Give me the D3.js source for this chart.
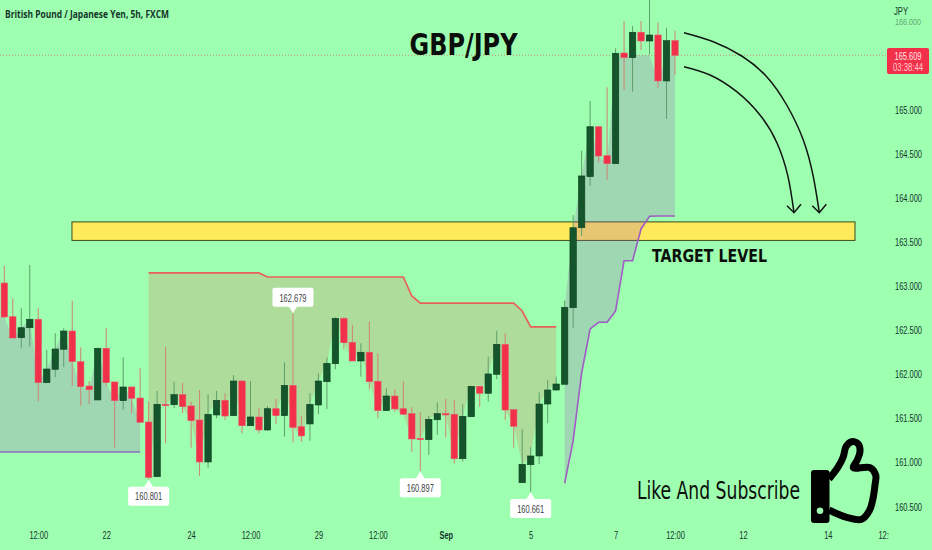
<!DOCTYPE html>
<html><head><meta charset="utf-8">
<style>
html,body{margin:0;padding:0;background:#9fffb0;overflow:hidden}
svg{display:block}
</style>
<script src="https://cdnjs.cloudflare.com/ajax/libs/d3/7.8.5/d3.min.js"></script>
</head><body>
<svg id="c" width="932" height="550"></svg>
<script>
const opens=[163.027,162.645,162.407,162.520,162.616,161.897,162.049,162.276,162.483,162.135,
161.859,161.701,162.287,161.905,161.693,161.848,161.723,161.451,160.831,161.652,
161.647,161.761,161.633,161.474,160.998,161.531,161.697,161.523,161.916,161.409,
161.508,161.361,161.602,161.523,161.867,161.398,161.429,161.644,161.908,162.112,
162.627,162.355,162.143,162.242,161.913,161.580,161.746,161.602,161.546,161.266,
161.251,161.477,161.546,161.539,161.035,161.511,161.856,161.777,161.992,162.332,
161.591,160.763,160.967,161.066,161.655,161.814,161.879,162.747,163.654,164.233,
164.799,164.471,164.380,165.635,165.582,165.870,165.771,165.839,165.318,165.775];
const closes=[162.642,162.404,162.520,162.616,161.897,162.052,162.279,162.483,162.135,161.852,
161.818,162.287,161.897,161.693,161.848,161.720,161.448,160.824,161.652,161.636,
161.761,161.625,161.466,160.998,161.539,161.697,161.519,161.916,161.409,161.508,
161.361,161.602,161.523,161.867,161.391,161.293,161.652,161.916,162.117,162.627,
162.350,162.143,162.242,161.908,161.580,161.746,161.599,161.539,161.259,161.251,
161.482,161.546,161.531,161.035,161.516,161.856,161.777,161.996,162.332,161.587,
161.403,160.972,161.066,161.655,161.814,161.882,162.752,163.654,164.241,164.799,
164.467,164.380,165.632,165.582,165.870,165.771,165.839,165.318,165.775,165.609];
const highs=[163.220,162.854,162.740,163.231,162.740,162.268,162.457,162.514,162.827,162.298,
161.916,162.294,162.520,161.908,162.185,161.852,162.060,161.681,161.803,162.305,
161.908,161.897,161.681,161.814,161.765,161.803,161.777,161.984,161.928,161.916,
161.607,161.633,161.712,162.128,162.679,161.519,161.777,162.003,162.185,162.638,
162.638,162.551,162.344,162.589,162.230,161.833,161.822,161.913,161.618,161.561,
161.519,161.675,161.712,161.701,161.652,161.860,161.860,162.192,162.486,162.457,
161.595,161.369,161.164,161.788,161.928,161.965,162.827,163.798,164.527,165.091,
164.807,165.246,165.688,165.998,165.941,165.998,166.250,165.983,165.922,165.888];
const lows=[162.630,162.400,162.287,162.305,161.681,161.897,161.958,162.072,161.859,161.636,
161.655,161.701,161.859,161.160,161.587,161.550,161.448,160.801,160.831,161.210,
161.607,161.550,161.160,160.839,160.933,161.493,161.474,161.523,161.323,161.409,
161.323,161.349,161.429,161.285,161.221,161.228,161.239,161.542,161.599,162.049,
162.276,162.143,161.965,161.822,161.493,161.576,161.568,161.539,161.115,160.897,
161.077,161.304,161.278,160.983,161.001,161.511,161.625,161.681,161.936,161.474,
161.160,160.763,160.661,160.975,161.437,161.806,161.879,162.520,163.560,164.127,
164.391,164.195,164.380,165.216,165.196,165.669,165.620,165.242,164.887,165.386];
const supportAStart=0;
const supportA=[161.111,161.111,161.111,161.111,161.111,161.111,161.111,161.111,161.111,161.111,161.111,161.111,161.111,161.111,161.111,161.111,161.111];
const resistStart=17;
const resist=[163.141,163.141,163.141,163.141,163.141,163.141,163.141,163.141,163.141,163.141,163.141,163.141,163.141,163.141,
163.095,163.095,163.095,163.095,163.095,163.095,163.095,163.095,163.095,163.095,163.095,163.095,163.095,163.095,163.095,163.095,163.095,
162.880,162.800,162.800,162.800,162.800,162.800,162.800,162.800,162.800,162.800,162.800,162.800,162.800,162.710,162.530,162.530,162.530,162.530];
const supportBStart=66;
const supportB=[160.756,161.239,162.004,162.506,162.582,162.582,162.710,163.280,163.280,163.640,163.784,163.787,163.787,163.787];
const priceTicks=[160.5,161,161.5,162,162.5,163,163.5,164,164.5,165,166];
const timeTickIdx=[4,12,22,29,37,44,52,62,72,79,87,97,104];
const timeTickLabels=["12:00","22","24","12:00","29","12:00","Sep","5","7","12:00","12","14","12:00"];
const calloutIdx=[17,34,49,62];
const calloutDir=["below","above","below","below"];
const lastPrice=165.609, countdown="03:38:44";
const zoneTop=163.72, zoneBottom=163.51, zoneFrom=7.97, zoneTo=100.2;

const BG="#9fffb0",RED="#f2304a",GREEN="#14552c",FONT="'Liberation Sans',sans-serif";
const svg=d3.select("#c");
const x=d3.scaleLinear().domain([0,100]).range([4.3,853.3]);
const y=d3.scaleLinear().domain([160.5,165]).range([505.9,109]);
function narrow(sel,f){
  sel.each(function(){
    const n=this.getComputedTextLength();
    d3.select(this).attr("textLength",n*(f||.65)).attr("lengthAdjust","spacingAndGlyphs");
  });
  return sel;
}
svg.append("rect").attr("width",932).attr("height",550).attr("fill",BG);
const defs=svg.append("defs");
defs.append("clipPath").attr("id","pane").append("rect").attr("width",889).attr("height",550);

const pane=svg.append("g").attr("clip-path","url(#pane)");
pane.append("rect").attr("x",x(zoneFrom)).attr("width",x(zoneTo)-x(zoneFrom))
 .attr("y",y(zoneTop)).attr("height",y(zoneBottom)-y(zoneTop))
 .attr("fill","#ffea5c").attr("stroke","#3a4a20").attr("stroke-width",1);
pane.append("line").attr("x1",0).attr("x2",889).attr("y1",y(lastPrice)).attr("y2",y(lastPrice))
 .attr("stroke","#c4917a").attr("stroke-width",1).attr("stroke-dasharray","1 2");
function run(start,vals,capped){
  return vals.map((v,k)=>({i:start+k,v,c:capped?Math.min(closes[start+k],lastPrice):closes[start+k]}));
}
const area=d3.area().x(d=>x(d.i)).y0(d=>y(d.v)).y1(d=>y(d.c));
const line=d3.line().x(d=>x(d.i)).y(d=>y(d.v));
const rA=run(supportAStart,supportA), rR=run(resistStart,resist), rB=run(supportBStart,supportB,true);
const rAFill=[{i:-1,v:supportA[0],c:closes[0]}].concat(rA);
pane.append("path").attr("d",area(rAFill)).attr("fill","#9b59b6").attr("fill-opacity",.24);
pane.append("path").attr("d",area(rR)).attr("fill","#f03c3c").attr("fill-opacity",.18);
pane.append("path").attr("d",area(rB)).attr("fill","#9b59b6").attr("fill-opacity",.24);
const idx=d3.range(opens.length);
pane.append("g").selectAll("line").data(idx).join("line")
 .attr("x1",i=>x(i)).attr("x2",i=>x(i)).attr("y1",i=>y(highs[i])).attr("y2",i=>y(lows[i]))
 .attr("stroke",i=>closes[i]<opens[i]?"#cf8474":"#5f9f6c").attr("stroke-width",1);
pane.append("g").selectAll("rect").data(idx).join("rect")
 .attr("x",i=>x(i)-3.2).attr("width",6.4)
 .attr("y",i=>y(Math.max(opens[i],closes[i])))
 .attr("height",i=>Math.max(1,Math.abs(y(opens[i])-y(closes[i]))))
 .attr("fill",i=>closes[i]<opens[i]?RED:GREEN)
 .attr("stroke",i=>closes[i]<opens[i]?"#e8556a":"#0e3f20").attr("stroke-width",.6);
const rAExt=[{i:-1,v:supportA[0]}].concat(rA);
pane.append("path").attr("d",line(rAExt)).attr("fill","none").attr("stroke","#8a70c0").attr("stroke-width",1.6);
pane.append("path").attr("d",line(rR)).attr("fill","none").attr("stroke","#e8605a").attr("stroke-width",1.7);
pane.append("path").attr("d",line(rB)).attr("fill","none").attr("stroke","#a05cc4").attr("stroke-width",1.6);
calloutIdx.forEach((i,k)=>{
  const below=calloutDir[k]==="below";
  const v=below?lows[i]:highs[i];
  const px=x(i),py=y(v)+(below?.5:-.5);
  const g=svg.append("g");
  const dir=below?1:-1;
  const boxTop=below?py+6.8:py-25.5;
  g.append("path").attr("d",`M${px},${py}L${px+5},${py+dir*8}L${px-5},${py+dir*8}Z`).attr("fill","#fff");
  g.append("rect").attr("x",px-20.5).attr("y",boxTop).attr("width",41).attr("height",19).attr("rx",2).attr("fill","#fff");
  narrow(g.append("text").attr("x",px).attr("y",boxTop+13.8).attr("text-anchor","middle")
   .attr("font-family",FONT).attr("font-size",11.5).attr("fill","#3a3f45").text(v.toFixed(3)));
});
const yAxis=d3.axisRight(y).tickValues(priceTicks).tickSize(0).tickPadding(0).tickFormat(d3.format(".3f"));
const ya=svg.append("g").attr("transform","translate(895,0)").call(yAxis);
ya.select(".domain").remove();
ya.selectAll("text").attr("font-family",FONT).attr("font-size",d=>d===166?9:11.5).attr("fill","#12352a")
  .attr("opacity",d=>d===166?.45:1).attr("dy","0.36em")
  .attr("transform",d=>d===166?"scale(.8,1)":"scale(.65,1)");
defs.append("clipPath").attr("id","tpane").append("rect").attr("width",889).attr("height",550);
const xAxis=d3.axisBottom(x).tickValues(timeTickIdx).tickSize(0).tickPadding(0).tickFormat((d,i)=>timeTickLabels[i]);
const xa=svg.append("g").attr("clip-path","url(#tpane)").append("g").attr("transform","translate(0,530.5)").call(xAxis);
xa.select(".domain").remove();
xa.selectAll("text").attr("font-family",FONT).attr("font-size",11.5).attr("fill","#12352a")
  .attr("font-weight",(d,i)=>timeTickLabels[i]==="Sep"?"bold":"normal").attr("dy","0.71em");
narrow(xa.selectAll("text"));
svg.append("text").attr("x",5).attr("y",17.5).attr("font-family","'Open Sans',sans-serif").attr("font-weight",700)
 .attr("font-size",10.5).attr("fill","#14352a").attr("textLength",164).attr("lengthAdjust","spacingAndGlyphs")
 .text("British Pound / Japanese Yen, 5h, FXCM");
narrow(svg.append("text").attr("x",894).attr("y",14.5).attr("font-family",FONT).attr("font-size",11.5).attr("fill","#12352a").text("JPY"),.67);
svg.append("rect").attr("x",887).attr("y",48).attr("width",42).attr("height",26).attr("rx",2).attr("fill",RED);
narrow(svg.append("text").attr("x",908).attr("y",60).attr("text-anchor","middle").attr("font-family",FONT).attr("font-size",11.5).attr("fill","#ffe4e6").text(lastPrice.toFixed(3)));
narrow(svg.append("text").attr("x",908).attr("y",71).attr("text-anchor","middle").attr("font-family",FONT).attr("font-size",11.5).attr("fill","#ffc9cf").text(countdown),.67);
const bigFont="'DejaVu Sans Condensed','DejaVu Sans',sans-serif";
svg.append("text").attr("x",409.5).attr("y",54.5).attr("font-family",bigFont).attr("font-weight","bold").attr("font-size",30)
 .attr("fill","#0b0f0c").attr("textLength",108).attr("lengthAdjust","spacingAndGlyphs").text("GBP/JPY");
svg.append("text").attr("x",652).attr("y",261.5).attr("font-family",bigFont).attr("font-weight","bold").attr("font-size",18)
 .attr("fill","#0b0f0c").attr("textLength",115).attr("lengthAdjust","spacingAndGlyphs").text("TARGET LEVEL");
svg.append("text").attr("x",637).attr("y",499).attr("font-family",bigFont).attr("font-size",24)
 .attr("fill","#0b0f0c").attr("textLength",163).attr("lengthAdjust","spacingAndGlyphs").text("Like And Subscribe");
const curve=d3.line().curve(d3.curveNatural);
const arrow1=[[684,32.7],[713.3,41.7],[741.7,56],[766.7,76.7],[786.7,105],[803.3,140],[813.3,176.7],[819.3,212.7]];
const arrow2=[[684,66.7],[710,75],[736.7,91.7],[760,115],[777,143],[788,176.7],[794,212.7]];
[arrow1,arrow2].forEach(a=>{
  svg.append("path").attr("d",curve(a)).attr("fill","none").attr("stroke","#101512").attr("stroke-width",1.5);
  const [ex,ey]=a[a.length-1];
  svg.append("path").attr("d",`M${ex-7},${ey-7}L${ex},${ey}L${ex+7},${ey-8.5}`).attr("fill","none").attr("stroke","#101512").attr("stroke-width",1.5);
});
const thumb=[[829,479],[838.3,466.7],[843.3,456.7],[846,446.7],[851.7,441.7],[858.3,444],[860,451.7],[857.3,460],[853.3,467.7],[870,467.7],[875.7,475],[875,485],[872.7,500],[869.3,510.7],[861.7,519.3],[846.7,517.3],[829,510]];
svg.append("path").attr("d",d3.line().curve(d3.curveCatmullRom.alpha(.5))(thumb)).attr("fill","none").attr("stroke","#000").attr("stroke-width",7).attr("stroke-linejoin","round");
svg.append("rect").attr("x",811).attr("y",470).attr("width",18.5).attr("height",53).attr("rx",3).attr("fill","#000");
svg.append("circle").attr("cx",820).attr("cy",510.7).attr("r",3.3).attr("fill",BG);
</script>
</body></html>
